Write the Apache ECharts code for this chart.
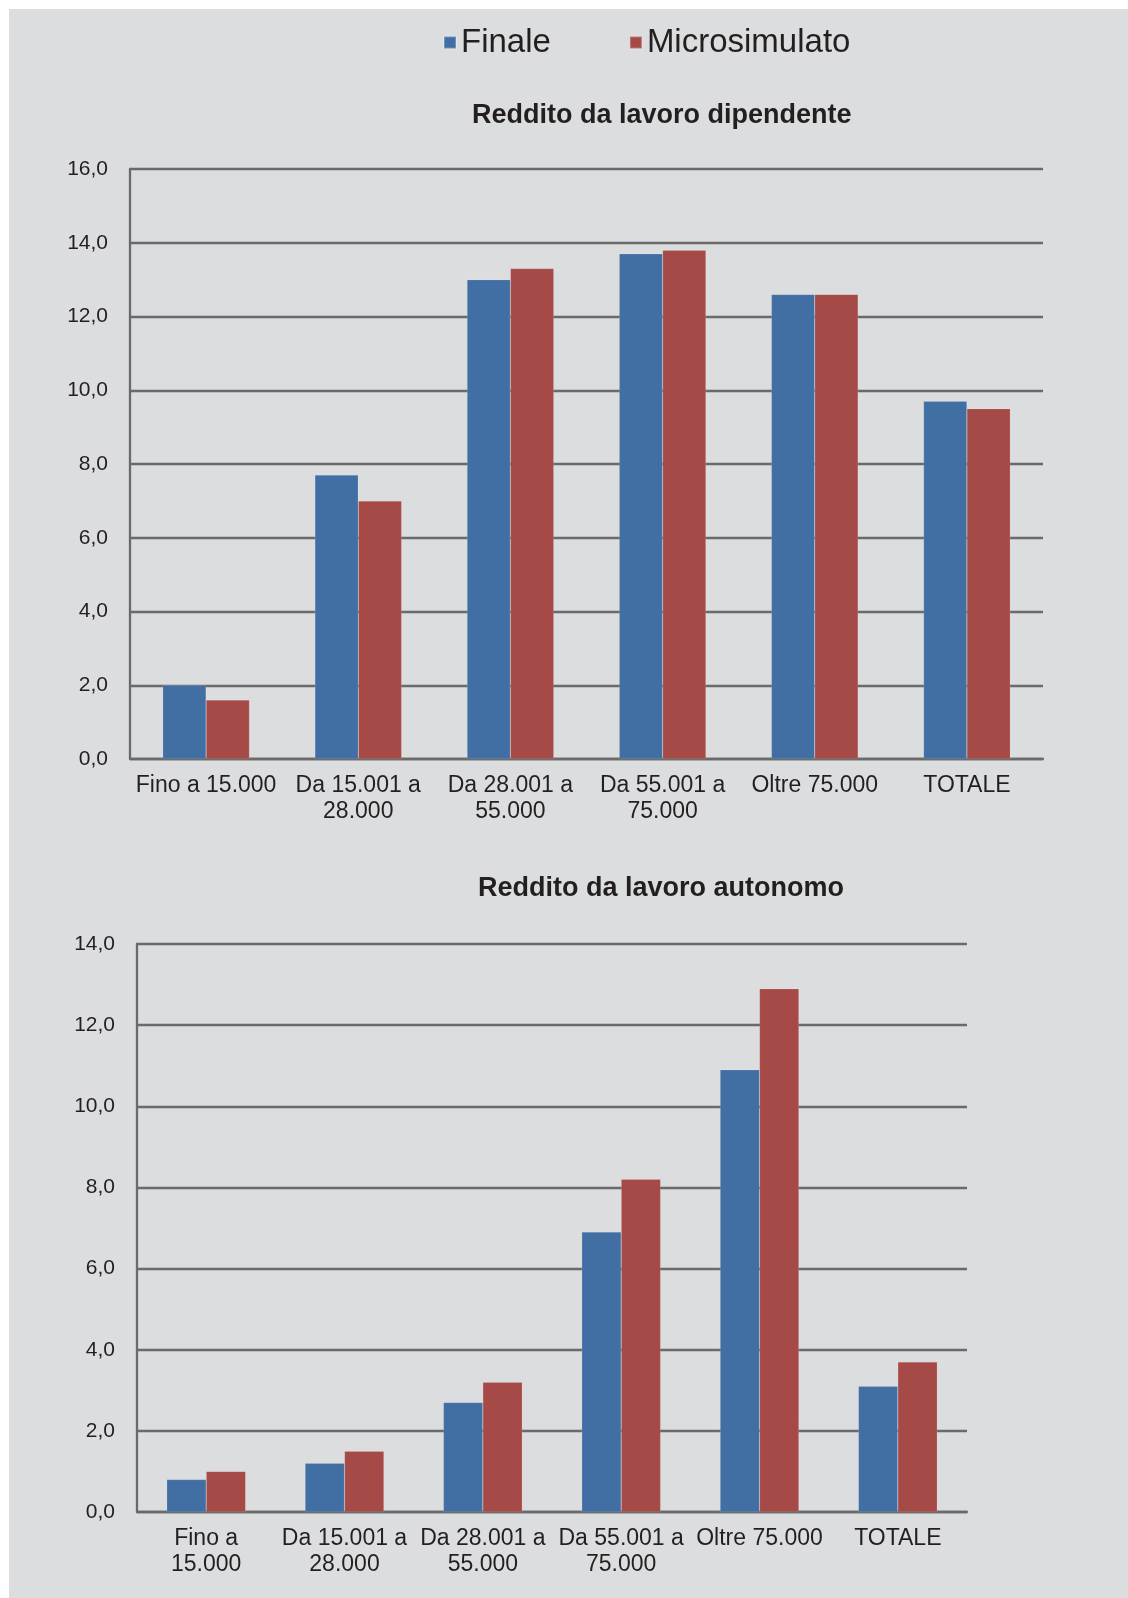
<!DOCTYPE html>
<html>
<head>
<meta charset="utf-8">
<script src="https://cdn.jsdelivr.net/npm/echarts@6/dist/echarts.min.js"></script>
<style>
html,body{margin:0;padding:0;background:#ffffff;}
#c{position:absolute;left:9px;top:9px;width:1119px;height:1589px;background:#dcdddf;}
</style>
</head>
<body>
<div id="c"></div>
<script>
const seriesNames = ['Finale', 'Microsimulato'];
const title1 = 'Reddito da lavoro dipendente';
const title2 = 'Reddito da lavoro autonomo';
const categories1 = ['Fino a 15.000', 'Da 15.001 a\n28.000', 'Da 28.001 a\n55.000', 'Da 55.001 a\n75.000', 'Oltre 75.000', 'TOTALE'];
const categories2 = ['Fino a\n15.000', 'Da 15.001 a\n28.000', 'Da 28.001 a\n55.000', 'Da 55.001 a\n75.000', 'Oltre 75.000', 'TOTALE'];
const finale1 = [2.0, 7.7, 13.0, 13.7, 12.6, 9.7];
const micro1 = [1.6, 7.0, 13.3, 13.8, 12.6, 9.5];
const finale2 = [0.8, 1.2, 2.7, 6.9, 10.9, 3.1];
const micro2 = [1.0, 1.5, 3.2, 8.2, 12.9, 3.7];
const yMax1 = 16, yMax2 = 14, yStep = 2;

const OX = 9, OY = 9; // container offset
const FONT = '"Liberation Sans", Arial, sans-serif';
const GRID = '#6a6a6a';
const BLUE = '#416fa4';
const RED = '#a54a47';

const chart = echarts.init(document.getElementById('c'), null, {renderer: 'canvas'});

function yAxis(gi, max) {
  return {
    type: 'value', gridIndex: gi, min: 0, max: max, interval: yStep,
    axisLine: {show: true, lineStyle: {color: GRID, width: 2.3}},
    axisTick: {show: false},
    splitLine: {show: true, lineStyle: {color: GRID, width: 2.3}},
    axisLabel: {color: '#231f20', fontSize: 21, fontFamily: FONT, margin: 22,
      formatter: v => v.toFixed(1).replace('.', ',')}
  };
}
function xAxis(gi, cats) {
  return {
    type: 'category', gridIndex: gi, data: cats,
    axisLine: {show: true, lineStyle: {color: GRID, width: 2.3}},
    axisTick: {show: false},
    axisLabel: {color: '#231f20', fontSize: 23, fontFamily: FONT, margin: 14, lineHeight: 26, interval: 0}
  };
}
function bar(name, data, gi, color) {
  return {
    name: name, type: 'bar', xAxisIndex: gi, yAxisIndex: gi, data: data,
    barGap: '0%', barCategoryGap: '43%',
    itemStyle: {color: color, borderColor: 'rgba(255,255,255,0.25)', borderWidth: 0.5},
    emphasis: {disabled: true}
  };
}

chart.setOption({
  animation: false,
  backgroundColor: '#dcdddf',
  title: [
    {text: title1, left: 472 - OX, top: 102 - OY, padding: 0,
      textStyle: {fontFamily: FONT, fontSize: 27, fontWeight: 'bold', color: '#231f20'}},
    {text: title2, left: 478 - OX, top: 875 - OY, padding: 0,
      textStyle: {fontFamily: FONT, fontSize: 27, fontWeight: 'bold', color: '#231f20'}}
  ],
  legend: {
    data: seriesNames, left: 443 - OX, top: 26 - OY, padding: 0,
    itemWidth: 12, itemHeight: 12, itemGap: 78, icon: 'rect',
    textStyle: {fontFamily: FONT, fontSize: 33, color: '#231f20', padding: [0, 0, 0, 0]}
  },
  grid: [
    {left: 130 - OX, top: 169 - OY, width: 913, height: 590},
    {left: 137 - OX, top: 944 - OY, width: 830, height: 568}
  ],
  xAxis: [xAxis(0, categories1), xAxis(1, categories2)],
  yAxis: [yAxis(0, yMax1), yAxis(1, yMax2)],
  series: [
    bar(seriesNames[0], finale1, 0, BLUE),
    bar(seriesNames[1], micro1, 0, RED),
    bar(seriesNames[0], finale2, 1, BLUE),
    bar(seriesNames[1], micro2, 1, RED)
  ]
});
</script>
</body>
</html>
